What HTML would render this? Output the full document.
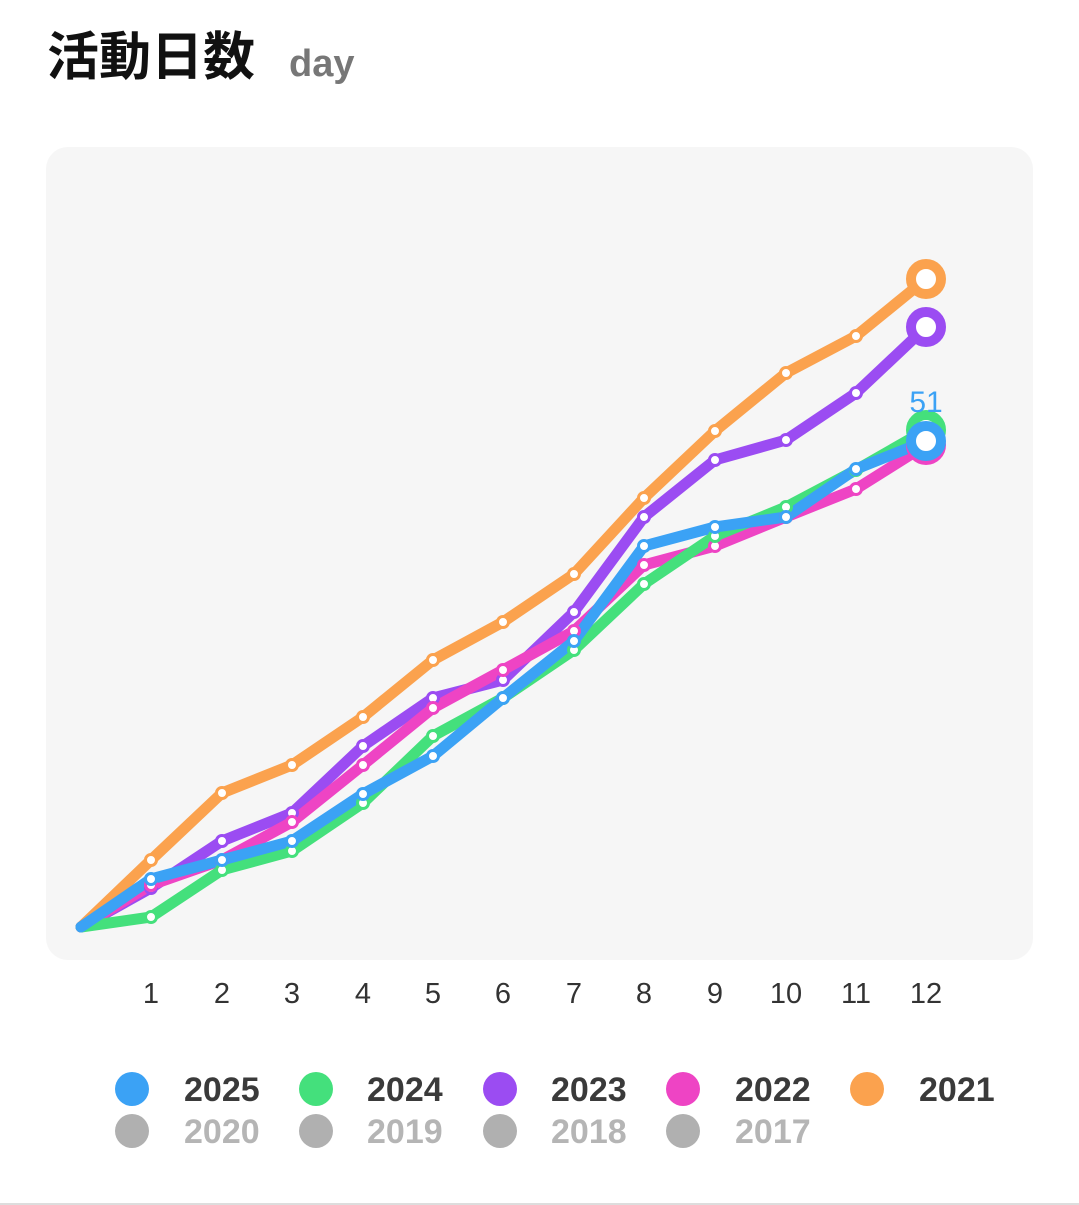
<!DOCTYPE html>
<html><head><meta charset="utf-8"><style>
body{margin:0;background:#fff;width:1079px;height:1205px;overflow:hidden;font-family:"Liberation Sans","Noto Sans CJK JP",sans-serif}
</style></head><body>
<svg width="1079" height="1205" xmlns="http://www.w3.org/2000/svg" style="position:absolute;left:0;top:0">
<text x="47" y="75" font-size="52" font-weight="bold" fill="#111" font-family="Liberation Sans,Noto Sans CJK JP,sans-serif">活動日数</text>
<text x="289" y="76" font-size="38" font-weight="bold" fill="#777" font-family="Liberation Sans,sans-serif">day</text>
<rect x="46" y="147" width="987" height="813" rx="22" fill="#f6f6f6"/>
<g fill="none" stroke-width="11" stroke-linejoin="round" stroke-linecap="round">
<polyline stroke="#fba24e" points="81,927 151,860 222,793 292,765 363,717 433,660 503,622 574,574 644,498 715,431 786,373 856,336 926,279"/>
<polyline stroke="#9b4cf2" points="81,927 151,888 222,841 292,813 363,746 433,698 503,680 574,612 644,517 715,460 786,440 856,393 926,327"/>
<polyline stroke="#ee44c4" points="81,927 151,885 222,860 292,822 363,765 433,708 503,670 574,631 644,565 715,546 786,517 856,489 926,445"/>
<polyline stroke="#44e07c" points="81,927 151,917 222,870 292,851 363,803 433,736 503,698 574,650 644,584 715,536 786,507 856,470 926,430"/>
<polyline stroke="#3ba2f5" points="81,927 151,879 222,860 292,841 363,794 433,756 503,698 574,641 644,546 715,527 786,517 856,469 926,441"/>
</g>
<g fill="#fff" stroke-width="3">
<g stroke="#fba24e"><circle cx="151" cy="860" r="5.5"/><circle cx="222" cy="793" r="5.5"/><circle cx="292" cy="765" r="5.5"/><circle cx="363" cy="717" r="5.5"/><circle cx="433" cy="660" r="5.5"/><circle cx="503" cy="622" r="5.5"/><circle cx="574" cy="574" r="5.5"/><circle cx="644" cy="498" r="5.5"/><circle cx="715" cy="431" r="5.5"/><circle cx="786" cy="373" r="5.5"/><circle cx="856" cy="336" r="5.5"/><circle cx="926" cy="279" r="15" stroke-width="10"/></g>
<g stroke="#9b4cf2"><circle cx="151" cy="888" r="5.5"/><circle cx="222" cy="841" r="5.5"/><circle cx="292" cy="813" r="5.5"/><circle cx="363" cy="746" r="5.5"/><circle cx="433" cy="698" r="5.5"/><circle cx="503" cy="680" r="5.5"/><circle cx="574" cy="612" r="5.5"/><circle cx="644" cy="517" r="5.5"/><circle cx="715" cy="460" r="5.5"/><circle cx="786" cy="440" r="5.5"/><circle cx="856" cy="393" r="5.5"/><circle cx="926" cy="327" r="15" stroke-width="10"/></g>
<g stroke="#ee44c4"><circle cx="151" cy="885" r="5.5"/><circle cx="222" cy="860" r="5.5"/><circle cx="292" cy="822" r="5.5"/><circle cx="363" cy="765" r="5.5"/><circle cx="433" cy="708" r="5.5"/><circle cx="503" cy="670" r="5.5"/><circle cx="574" cy="631" r="5.5"/><circle cx="644" cy="565" r="5.5"/><circle cx="715" cy="546" r="5.5"/><circle cx="786" cy="517" r="5.5"/><circle cx="856" cy="489" r="5.5"/><circle cx="926" cy="445" r="15" stroke-width="10"/></g>
<g stroke="#44e07c"><circle cx="151" cy="917" r="5.5"/><circle cx="222" cy="870" r="5.5"/><circle cx="292" cy="851" r="5.5"/><circle cx="363" cy="803" r="5.5"/><circle cx="433" cy="736" r="5.5"/><circle cx="503" cy="698" r="5.5"/><circle cx="574" cy="650" r="5.5"/><circle cx="644" cy="584" r="5.5"/><circle cx="715" cy="536" r="5.5"/><circle cx="786" cy="507" r="5.5"/><circle cx="856" cy="470" r="5.5"/><circle cx="926" cy="430" r="15" stroke-width="10"/></g>
<g stroke="#3ba2f5"><circle cx="151" cy="879" r="5.5"/><circle cx="222" cy="860" r="5.5"/><circle cx="292" cy="841" r="5.5"/><circle cx="363" cy="794" r="5.5"/><circle cx="433" cy="756" r="5.5"/><circle cx="503" cy="698" r="5.5"/><circle cx="574" cy="641" r="5.5"/><circle cx="644" cy="546" r="5.5"/><circle cx="715" cy="527" r="5.5"/><circle cx="786" cy="517" r="5.5"/><circle cx="856" cy="469" r="5.5"/><circle cx="926" cy="441" r="15" stroke-width="10"/></g>
</g>
<text x="926" y="412" font-size="30" fill="#3ba2f5" text-anchor="middle">51</text>
<g font-size="29" fill="#333" text-anchor="middle">
<text x="151" y="1003">1</text><text x="222" y="1003">2</text><text x="292" y="1003">3</text><text x="363" y="1003">4</text><text x="433" y="1003">5</text><text x="503" y="1003">6</text><text x="574" y="1003">7</text><text x="644" y="1003">8</text><text x="715" y="1003">9</text><text x="786" y="1003">10</text><text x="856" y="1003">11</text><text x="926" y="1003">12</text>
</g>
<g font-size="34" font-weight="bold">
<circle cx="132" cy="1089" r="17" fill="#3ba2f5"/><text x="184" y="1101" fill="#3a3a3a">2025</text>
<circle cx="316" cy="1089" r="17" fill="#44e07c"/><text x="367" y="1101" fill="#3a3a3a">2024</text>
<circle cx="500" cy="1089" r="17" fill="#9b4cf2"/><text x="551" y="1101" fill="#3a3a3a">2023</text>
<circle cx="683" cy="1089" r="17" fill="#ee44c4"/><text x="735" y="1101" fill="#3a3a3a">2022</text>
<circle cx="867" cy="1089" r="17" fill="#fba24e"/><text x="919" y="1101" fill="#3a3a3a">2021</text>
<circle cx="132" cy="1131" r="17" fill="#b0b0b0"/><text x="184" y="1143" fill="#b5b5b5">2020</text>
<circle cx="316" cy="1131" r="17" fill="#b0b0b0"/><text x="367" y="1143" fill="#b5b5b5">2019</text>
<circle cx="500" cy="1131" r="17" fill="#b0b0b0"/><text x="551" y="1143" fill="#b5b5b5">2018</text>
<circle cx="683" cy="1131" r="17" fill="#b0b0b0"/><text x="735" y="1143" fill="#b5b5b5">2017</text>
</g>
<rect x="0" y="1203" width="1079" height="2" fill="#ddd"/>
</svg>
</body></html>
